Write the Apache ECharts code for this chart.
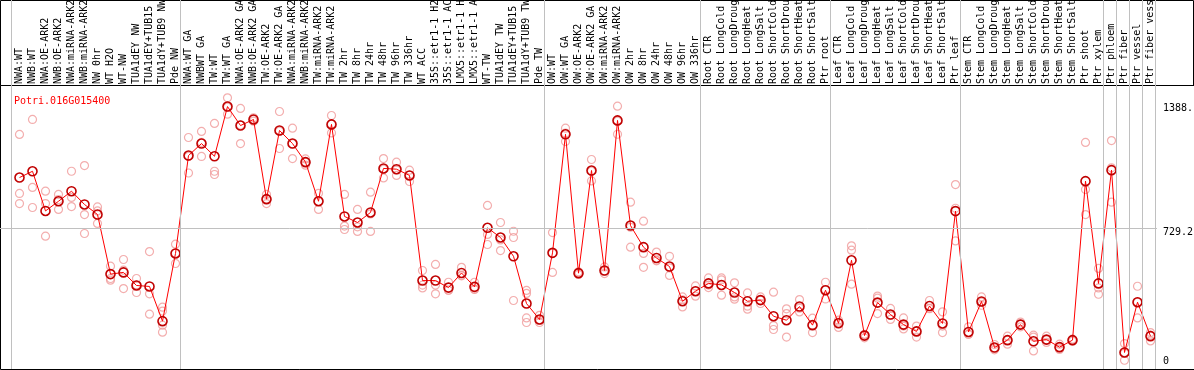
<!DOCTYPE html>
<html>
<head>
<meta charset="utf-8">
<script src="https://cdn.jsdelivr.net/npm/echarts@6/dist/echarts.min.js"></script>
<style>html,body{margin:0;padding:0;background:#fff;}#c{width:1194px;height:370px;}</style>
</head>
<body>
<div id="c"></div>
<script>
const geneName = 'Potri.016G015400';

const categories = [
"NWA:WT","NWB:WT","NWA:OE-ARK2","NWB:OE-ARK2","NWA:miRNA-ARK2","NWB:miRNA-ARK2","NW 0hr","WT H2O","WT-NW","TUA1dEY NW","TUA1dEY+TUB15","TUA1dY+TUB9 NW","Pde NW",
"NWA:WT GA","NWBWT GA","TW:WT","TW:WT GA","NWA:OE-ARK2 GA","NWB:OE-ARK2 GA","TW:OE-ARK2","TW:OE-ARK2 GA","NWA:miRNA-ARK2","NWB:miRNA-ARK2","TW:miRNA-ARK2","TW:miRNA-ARK2","TW 2hr","TW 8hr","TW 24hr","TW 48hr","TW 96hr","TW 336hr","WT ACC","35S::etr1-1 H2O","35S::etr1-1 ACC","LMX5::etr1-1 H2O","LMX5::etr1-1 ACC","WT-TW","TUA1dEY TW","TUA1dEY+TUB15","TUA1dY+TUB9 TW","Pde TW",
"OW:WT","OW:WT GA","OW:OE-ARK2","OW:OE-ARK2 GA","OW:miRNA-ARK2","OW:miRNA-ARK2","OW 2hr","OW 8hr","OW 24hr","OW 48hr","OW 96hr","OW 336hr",
"Root CTR","Root LongCold","Root LongDrought","Root LongHeat","Root LongSalt","Root ShortCold","Root ShortDrought","Root ShortHeat","Root ShortSalt","Ptr root",
"Leaf CTR","Leaf LongCold","Leaf LongDrought","Leaf LongHeat","Leaf LongSalt","Leaf ShortCold","Leaf ShortDrought","Leaf ShortHeat","Leaf ShortSalt","Ptr leaf",
"Stem CTR","Stem LongCold","Stem LongDrought","Stem LongHeat","Stem LongSalt","Stem ShortCold","Stem ShortDrought","Stem ShortHeat","Stem ShortSalt","Ptr shoot","Ptr xylem",
"Ptr phloem","Ptr fiber","Ptr vessel","Ptr fiber vessel"
];

// mean expression per sample
const means = [
998,1031,822,873,926,856,803,489,498,429,424,241,598,
1114,1177,1110,1372,1272,1304,884,1246,1177,1079,873,1278,793,761,814,1046,1042,1009,455,455,418,495,422,733,682,583,334,250,
601,1226,494,1035,508,1299,745,631,574,529,346,
399,440,432,392,346,352,267,246,318,220,
404,230,562,165,339,276,223,187,321,229,
821,184,345,102,141,223,135,144,104,141,979,
440,1037,76,341,162
];

// replicate values per sample
const replicates = [
[1225,914,861],[1304,946,840],[926,861,689],[909,882,830],[1031,893,845],[1061,803,703],[843,822,756],[531,466,457],[566,510,413],[466,431,392],[608,385,278],[315,294,220,183],[647,599,545],
[1209,1110,1022],[1241,1183,1109],[1283,1031,1014],[1418,1369,1332],[1362,1274,1177],[1313,1304,1295],[909,884,861],[1346,1242,1151],[1258,1176,1098],[1096,1079,1063],[915,873,830],[1325,1279,1233],[909,742,724],[830,738,714],[921,806,714],[1098,1042,996],[1079,1038,1009],[1037,1010,977],[508,431,416],[540,431,385],[446,404,404],[525,483,480],[446,410,408],[851,698,645],[761,669,613],[715,682,350],[403,387,258,234],[272,246,234],
[708,599,498],[1258,1232,1188],[501,494,487],[1093,1031,980],[527,504,492],[1374,1295,1226],[868,736,631],[768,598,525],[605,559,562],[583,522,482],[369,353,316],[427,399,373],
[469,431,418],[469,459,378],[443,369,357],[390,320,304],[369,352,334],[394,218,197],[306,281,157],[355,309,290],[257,220,181],[446,408,358],
[246,236,208],[638,615,436],[172,170,153],[373,362,281],[308,272,250],[258,215,200],[215,188,157],[350,309,307],[290,215,181],[961,836,664],
[211,172,172],[369,341,325],[118,99,90],[162,141,120],[236,225,211],[167,157,84],[162,142,129],[120,100,92],[146,141,136],[1183,935,803],[519,416,383],
[1193,1049,868],[123,72,35],[425,341,258],[181,167,137]
];

// index of the last sample in each group (-1 = line before the first sample)
const groupEnds = [-1, 12, 40, 52, 62, 72, 83, 84, 85, 86, 87];

// y-axis reference labels
const yRefLabels = [
  {value: 1388.4, text: '1388.'},
  {value: 729.2, text: '729.2'},
  {value: 0, text: '0'}
];
const midLineValue = 729.2;

const repPoints = [];
replicates.forEach((arr, i) => arr.forEach(v => repPoints.push([i, v])));

const FONT = 'DejaVu Sans Mono';
const SEP_OFFSET = 5 / 13;
const labelOffsets = {'1388.': 4.5, '729.2': 4, '0': -5.4};

const chart = echarts.init(document.getElementById('c'), null, {renderer: 'canvas'});
const gridBase = {outerBoundsMode: 'none', containLabel: false};
const option = {
  animation: false,
  backgroundColor: '#ffffff',
  title: {
    text: geneName, left: 9, top: 91.5,
    textStyle: {color: '#ff0000', fontSize: 10, fontFamily: FONT, fontWeight: 'normal'}
  },
  grid: [
    Object.assign({left: 13, top: 86, width: 1144, height: 280.9}, gridBase),
    Object.assign({left: 0, top: 0, width: 1157, height: 369}, gridBase),
    Object.assign({left: 0.5, top: 0.5, width: 1193, height: 85, show: true, borderColor: '#000', borderWidth: 1, backgroundColor: 'transparent'}, gridBase),
    Object.assign({left: 0.5, top: 85.5, width: 1400, height: 284, show: true, borderColor: '#000', borderWidth: 1, backgroundColor: 'transparent'}, gridBase)
  ],
  xAxis: [
    {gridIndex: 0, type: 'category', data: categories, position: 'top', boundaryGap: true,
     axisLine: {show: false}, axisTick: {show: false}, splitLine: {show: false},
     axisLabel: {interval: 0, rotate: 90, margin: 2, color: '#000', fontSize: 10, fontFamily: FONT}},
    {gridIndex: 1, type: 'value', min: -1.5, max: 87.5, show: false},
    {gridIndex: 2, type: 'value', show: false},
    {gridIndex: 3, type: 'value', show: false}
  ],
  yAxis: [
    {gridIndex: 0, type: 'value', min: 0, max: 1480.4, show: false},
    {gridIndex: 1, type: 'value', min: -11.07, max: 1933.7, show: false},
    {gridIndex: 2, type: 'value', show: false},
    {gridIndex: 3, type: 'value', show: false}
  ],
  series: [
    {
      type: 'line', xAxisIndex: 1, yAxisIndex: 1, z: 1,
      data: [[-1.4, -10]], symbol: 'none', lineStyle: {width: 0}, silent: true,
      markLine: {
        silent: true, symbol: 'none', animation: false,
        lineStyle: {color: '#c0c0c0', width: 1, type: 'solid'},
        label: {show: false},
        data: groupEnds.map(g => ({xAxis: g + SEP_OFFSET}))
          .concat([{yAxis: midLineValue}])
          .concat(yRefLabels.map(r => ({
            yAxis: r.value,
            lineStyle: {color: 'rgba(0,0,0,0)'},
            label: {show: true, position: 'end', distance: 6, formatter: r.text,
                    color: '#000', fontSize: 10, fontFamily: FONT,
                    offset: [0, labelOffsets[r.text]]}
          })))
      }
    },
    {
      type: 'scatter', xAxisIndex: 0, yAxisIndex: 0, z: 2,
      data: repPoints, symbol: 'circle', symbolSize: 8,
      itemStyle: {color: 'rgba(0,0,0,0)', borderColor: '#f09a9a', borderWidth: 1.2}
    },
    {
      type: 'line', xAxisIndex: 0, yAxisIndex: 0, z: 3,
      data: means, symbol: 'circle', symbolSize: 9, showAllSymbol: true,
      lineStyle: {color: '#ff0000', width: 1},
      itemStyle: {color: 'rgba(0,0,0,0)', borderColor: '#c00000', borderWidth: 1.6}
    }
  ]
};
chart.setOption(option);
</script>
</body>
</html>
